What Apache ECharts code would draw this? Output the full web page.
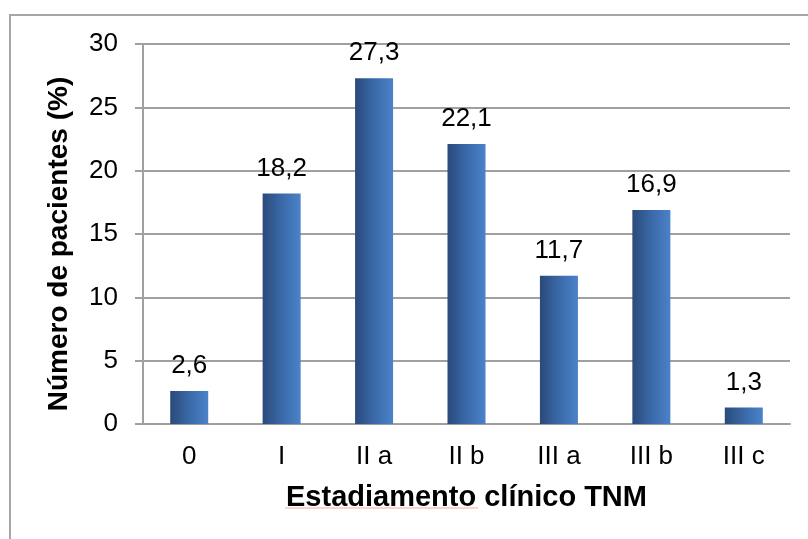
<!DOCTYPE html>
<html>
<head>
<meta charset="utf-8">
<script src="https://cdn.jsdelivr.net/npm/echarts@6/dist/echarts.min.js"></script>
<style>
  html, body { margin: 0; padding: 0; background: #ffffff; }
  #chart { width: 808px; height: 539px; }
</style>
</head>
<body>
<div id="chart"></div>
<script>
// Distribution of patients by TNM clinical stage
const categories = ['0', 'I', 'II a', 'II b', 'III a', 'III b', 'III c'];
const percentages = [2.6, 18.2, 27.3, 22.1, 11.7, 16.9, 1.3];
const yTicks = { min: 0, max: 30, step: 5 };

const fontFamily = '"Liberation Sans", Arial, sans-serif';
const fmt = v => String(v).replace('.', ',');

const chart = echarts.init(document.getElementById('chart'), null, { renderer: 'canvas' });

chart.setOption({
  backgroundColor: '#ffffff',
  animation: false,
  grid: { left: 143, right: 18, top: 44, bottom: 115 },
  graphic: [
    {
      type: 'rect',
      shape: { x: 10, y: 15, width: 830, height: 560 },
      style: { fill: 'none', stroke: '#a6a6a6', lineWidth: 2 },
      silent: true
    },
    {
      type: 'polyline',
      shape: { points: [[285, 508], [478, 508]] },
      style: { stroke: '#f2a7a7', lineWidth: 1, fill: 'none' },
      silent: true
    }
  ],
  xAxis: {
    type: 'category',
    data: categories,
    name: 'Estadiamento clínico TNM',
    nameLocation: 'middle',
    nameGap: 59,
    nameTextStyle: { fontFamily, fontSize: 29, fontWeight: 'bold', color: '#000' },
    axisLine: { lineStyle: { color: '#a0a0a0', width: 2 } },
    axisTick: { show: false },
    axisLabel: { fontFamily, fontSize: 26, color: '#000', margin: 20 }
  },
  yAxis: {
    type: 'value',
    min: yTicks.min,
    max: yTicks.max,
    interval: yTicks.step,
    name: 'Número de pacientes (%)',
    nameLocation: 'middle',
    nameGap: 70,
    nameTextStyle: { fontFamily, fontSize: 28, fontWeight: 'bold', color: '#000', padding: [0, 20, 0, 0] },
    axisLine: { show: true, lineStyle: { color: '#a0a0a0', width: 2 } },
    axisTick: { show: true, length: 8, lineStyle: { color: '#a0a0a0', width: 2 } },
    splitLine: { lineStyle: { color: '#a0a0a0', width: 2 } },
    axisLabel: { fontFamily, fontSize: 26, color: '#000', margin: 25 }
  },
  series: [{
    type: 'bar',
    data: percentages,
    barWidth: 38,
    itemStyle: {
      color: new echarts.graphic.LinearGradient(0, 0, 1, 0, [
        { offset: 0, color: '#2a4a7b' },
        { offset: 0.5, color: '#3a69a8' },
        { offset: 1, color: '#4a82c9' }
      ])
    },
    label: {
      show: true,
      position: 'top',
      distance: 12,
      fontFamily,
      fontSize: 26,
      color: '#000',
      formatter: p => fmt(p.value)
    }
  }]
});
</script>
</body>
</html>
